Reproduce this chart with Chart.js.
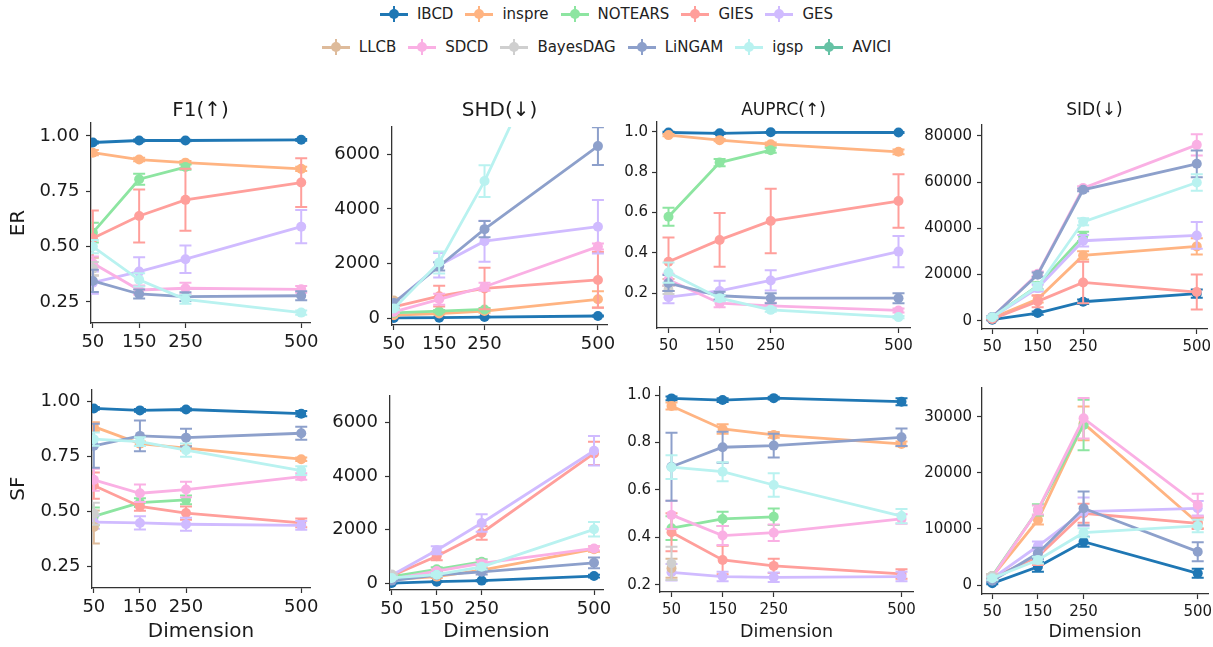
<!DOCTYPE html>
<html>
<head>
<meta charset="utf-8">
<script src="https://cdn.jsdelivr.net/npm/chart.js@4.4.1/dist/chart.umd.min.js"></script>
<style>
  html, body { margin: 0; padding: 0; background: #fff; overflow: hidden; }
  #fig { position: relative; width: 1213px; height: 647px; overflow: hidden; font-family: "DejaVu Sans", sans-serif; }
  canvas.panel { position: absolute; }
  .legend-row { position: absolute; left: 0; width: 1213px; height: 20px; display: flex; justify-content: center; align-items: center; font-size: 15px; color: #222; }
  .item { display: flex; align-items: center; margin: 0 6px; }
  .handle { position: relative; width: 28px; height: 16px; margin-right: 9px; }
  .handle .h { position: absolute; left: 0; right: 0; top: 6.5px; height: 3px; }
  .handle .v { position: absolute; left: 13px; width: 2px; top: 0; bottom: 0; }
  .handle .dot { position: absolute; left: 9px; top: 3px; width: 10px; height: 10px; border-radius: 50%; }
</style>
</head>
<body>
<div id="fig"></div>
<script>
const N = null;
const dims = [50, 150, 250, 500];
const methods = ["IBCD", "inspre", "NOTEARS", "GIES", "GES", "LLCB", "SDCD", "BayesDAG", "LiNGAM", "igsp", "AVICI"];
const colors = ["#1f77b4", "#ffb482", "#8de5a1", "#ff9f9b", "#d0bbff", "#debb9b", "#fab0e4", "#cfcfcf", "#8da0cb", "#b9f2f0", "#66c2a5"];

// tick values per metric
const f1Ticks = [0.25, 0.5, 0.75, 1.0];
const shdTicks = [0, 2000, 4000, 6000];
const auprcTicks = [0.2, 0.4, 0.6, 0.8, 1.0];
const sidTicksER = [0, 20000, 40000, 60000, 80000];
const sidTicksSF = [0, 10000, 20000, 30000];

// ---- ER graphs ----
const erF1 = {
  IBCD: [0.970, 0.979, 0.979, 0.982], inspre: [0.924, 0.893, 0.879, 0.851],
  NOTEARS: [0.563, 0.804, 0.859, N], GIES: [0.538, 0.638, 0.711, 0.789],
  GES: [0.337, 0.387, 0.443, 0.590], LLCB: [0.41, N, N, N],
  SDCD: [0.425, 0.304, 0.312, 0.307], BayesDAG: [0.40, N, N, N],
  LiNGAM: [0.345, 0.286, 0.274, 0.278], igsp: [0.50, 0.35, 0.262, 0.202],
  AVICI: [N, N, N, N]
};
const erF1Err = {
  IBCD: [0.005, 0.004, 0.003, 0.004], inspre: [0.012, 0.008, 0.007, 0.010],
  NOTEARS: [0.045, 0.025, 0.012, N], GIES: [0.125, 0.12, 0.14, 0.11],
  GES: [0.05, 0.065, 0.062, 0.075], LLCB: [0.04, N, N, N],
  SDCD: [0.03, 0.02, 0.025, 0.015], BayesDAG: [0.03, N, N, N],
  LiNGAM: [0.05, 0.02, 0.02, 0.02], igsp: [0.03, 0.03, 0.02, 0.01],
  AVICI: [N, N, N, N]
};
const erShd = {
  IBCD: [10, 20, 40, 80], inspre: [110, 170, 260, 690],
  NOTEARS: [195, 255, 320, N], GIES: [415, 805, 1090, 1400],
  GES: [550, 1940, 2820, 3350], LLCB: [650, N, N, N],
  SDCD: [230, 690, 1150, 2620], BayesDAG: [400, N, N, N],
  LiNGAM: [560, 1900, 3260, 6300], igsp: [355, 2040, 5020, 13900],
  AVICI: [N, N, N, N]
};
const erShdErr = {
  IBCD: [5, 5, 8, 15], inspre: [30, 40, 60, 300],
  NOTEARS: [30, 40, 50, N], GIES: [60, 380, 760, 1020],
  GES: [150, 450, 750, 980], LLCB: [80, N, N, N],
  SDCD: [40, 200, 150, 110], BayesDAG: [60, N, N, N],
  LiNGAM: [100, 150, 300, 690], igsp: [60, 400, 580, 800],
  AVICI: [N, N, N, N]
};
const erAuprc = {
  IBCD: [0.997, 0.993, 0.998, 0.997], inspre: [0.984, 0.959, 0.939, 0.901],
  NOTEARS: [0.579, 0.848, 0.909, N], GIES: [0.356, 0.464, 0.558, 0.657],
  GES: [0.180, 0.211, 0.263, 0.406], LLCB: [0.24, N, N, N],
  SDCD: [0.266, 0.150, 0.137, 0.114], BayesDAG: [0.216, N, N, N],
  LiNGAM: [0.250, 0.187, 0.175, 0.175], igsp: [0.302, 0.175, 0.117, 0.081],
  AVICI: [N, N, N, N]
};
const erAuprcErr = {
  IBCD: [0.004, 0.004, 0.002, 0.002], inspre: [0.006, 0.006, 0.008, 0.012],
  NOTEARS: [0.045, 0.018, 0.012, N], GIES: [0.12, 0.133, 0.16, 0.133],
  GES: [0.03, 0.05, 0.05, 0.077], LLCB: [0.03, N, N, N],
  SDCD: [0.03, 0.02, 0.015, 0.01], BayesDAG: [0.02, N, N, N],
  LiNGAM: [0.04, 0.02, 0.025, 0.025], igsp: [0.05, 0.015, 0.01, 0.006],
  AVICI: [N, N, N, N]
};
const erSid = {
  IBCD: [430, 3300, 8200, 11700], inspre: [1150, 9400, 28250, 32150],
  NOTEARS: [1500, 15100, 36500, N], GIES: [700, 8350, 16550, 12400],
  GES: [1500, 14100, 34600, 36900], LLCB: [1500, N, N, N],
  SDCD: [1600, 20300, 57400, 76100], BayesDAG: [1500, N, N, N],
  LiNGAM: [1600, 19900, 56650, 67900], igsp: [1500, 14800, 42800, 59800],
  AVICI: [N, N, N, N]
};
const erSidErr = {
  IBCD: [200, 700, 1000, 1800], inspre: [300, 1500, 1800, 3500],
  NOTEARS: [300, 1500, 2000, N], GIES: [200, 2500, 9000, 7600],
  GES: [300, 1500, 2500, 5800], LLCB: [200, N, N, N],
  SDCD: [300, 1000, 800, 4600], BayesDAG: [200, N, N, N],
  LiNGAM: [300, 1000, 600, 5800], igsp: [300, 1500, 1500, 3600],
  AVICI: [N, N, N, N]
};

// ---- SF graphs ----
const sfF1 = {
  IBCD: [0.967, 0.958, 0.962, 0.943], inspre: [0.884, 0.807, 0.786, 0.736],
  NOTEARS: [0.476, 0.538, 0.551, N], GIES: [0.616, 0.521, 0.491, 0.446],
  GES: [0.450, 0.446, 0.440, 0.435], LLCB: [0.428, N, N, N],
  SDCD: [0.642, 0.581, 0.598, 0.657], BayesDAG: [0.488, N, N, N],
  LiNGAM: [0.797, 0.842, 0.834, 0.854], igsp: [0.827, 0.816, 0.777, 0.684],
  AVICI: [N, N, N, N]
};
const sfF1Err = {
  IBCD: [0.006, 0.006, 0.005, 0.012], inspre: [0.02, 0.01, 0.01, 0.008],
  NOTEARS: [0.04, 0.02, 0.02, N], GIES: [0.06, 0.02, 0.03, 0.02],
  GES: [0.03, 0.03, 0.03, 0.02], LLCB: [0.075, N, N, N],
  SDCD: [0.05, 0.04, 0.035, 0.015], BayesDAG: [0.05, N, N, N],
  LiNGAM: [0.10, 0.07, 0.04, 0.03], igsp: [0.03, 0.02, 0.03, 0.02],
  AVICI: [N, N, N, N]
};
const sfShd = {
  IBCD: [10, 60, 100, 270], inspre: [140, 250, 490, 1275],
  NOTEARS: [250, 520, 800, N], GIES: [280, 1013, 1880, 4850],
  GES: [300, 1236, 2250, 4950], LLCB: [300, N, N, N],
  SDCD: [160, 456, 740, 1300], BayesDAG: [330, N, N, N],
  LiNGAM: [100, 310, 430, 765], igsp: [200, 320, 615, 2015],
  AVICI: [N, N, N, N]
};
const sfShdErr = {
  IBCD: [5, 10, 20, 50], inspre: [30, 50, 80, 100],
  NOTEARS: [40, 80, 100, N], GIES: [50, 150, 250, 430],
  GES: [50, 150, 330, 550], LLCB: [50, N, N, N],
  SDCD: [30, 60, 100, 80], BayesDAG: [40, N, N, N],
  LiNGAM: [20, 60, 100, 200], igsp: [30, 60, 100, 270],
  AVICI: [N, N, N, N]
};
const sfAuprc = {
  IBCD: [0.986, 0.979, 0.987, 0.972], inspre: [0.954, 0.857, 0.832, 0.794],
  NOTEARS: [0.439, 0.478, 0.487, N], GIES: [0.422, 0.305, 0.280, 0.246],
  GES: [0.253, 0.235, 0.232, 0.235], LLCB: [0.27, N, N, N],
  SDCD: [0.495, 0.408, 0.420, 0.478], BayesDAG: [0.291, N, N, N],
  LiNGAM: [0.698, 0.780, 0.787, 0.822], igsp: [0.696, 0.677, 0.621, 0.490],
  AVICI: [N, N, N, N]
};
const sfAuprcErr = {
  IBCD: [0.008, 0.008, 0.006, 0.015], inspre: [0.015, 0.02, 0.012, 0.01],
  NOTEARS: [0.05, 0.03, 0.035, N], GIES: [0.08, 0.06, 0.03, 0.02],
  GES: [0.035, 0.02, 0.02, 0.02], LLCB: [0.04, N, N, N],
  SDCD: [0.06, 0.04, 0.035, 0.02], BayesDAG: [0.07, N, N, N],
  LiNGAM: [0.143, 0.065, 0.05, 0.037], igsp: [0.05, 0.04, 0.05, 0.03],
  AVICI: [N, N, N, N]
};
const sfSid = {
  IBCD: [300, 3260, 7720, 2080], inspre: [1480, 11590, 28800, 11100],
  NOTEARS: [1600, 13370, 28520, N], GIES: [1300, 5050, 12780, 11000],
  GES: [1200, 6950, 13070, 13670], LLCB: [1600, N, N, N],
  SDCD: [1400, 13370, 29700, 14260], BayesDAG: [1600, N, N, N],
  LiNGAM: [770, 5650, 13670, 5940], igsp: [1200, 4450, 9320, 10520],
  AVICI: [N, N, N, N]
};
const sfSidErr = {
  IBCD: [150, 900, 900, 800], inspre: [300, 800, 3000, 1000],
  NOTEARS: [300, 1000, 4500, N], GIES: [300, 1500, 1700, 1000],
  GES: [300, 800, 2500, 1300], LLCB: [300, N, N, N],
  SDCD: [300, 800, 3600, 2000], BayesDAG: [300, N, N, N],
  LiNGAM: [200, 1000, 3000, 1700], igsp: [300, 600, 800, 1100],
  AVICI: [N, N, N, N]
};

// panel layout: plot box [left, top, right, bottom] in page pixels
const panels = [
  { vals: erF1, errs: erF1Err, ticks: f1Ticks, dec: 2, y: [0.155, 1.058], x: [46, 519], box: [91, 123, 310, 323], col: 0, row: 0, title: "F1(\u2191)", side: "ER" },
  { vals: erShd, errs: erShdErr, ticks: shdTicks, dec: null, y: [-250, 7000], x: [46, 520], box: [392, 127, 607, 325], col: 1, row: 0, title: "SHD(\u2193)" },
  { vals: erAuprc, errs: erAuprcErr, ticks: auprcTicks, dec: 1, y: [0.027, 1.049], x: [27.5, 522.5], box: [657, 122, 910, 328], col: 2, row: 0, title: "AUPRC(\u2191)" },
  { vals: erSid, errs: erSidErr, ticks: sidTicksER, dec: null, y: [-3600, 84700], x: [27.5, 522.5], box: [982, 125, 1207, 329], col: 3, row: 0, title: "SID(\u2193)" },
  { vals: sfF1, errs: sfF1Err, ticks: f1Ticks, dec: 2, y: [0.15, 1.054], x: [46, 519], box: [92, 388, 310, 588], col: 0, row: 1, side: "SF" },
  { vals: sfShd, errs: sfShdErr, ticks: shdTicks, dec: null, y: [-250, 7000], x: [46, 520], box: [390, 394, 603, 590], col: 1, row: 1 },
  { vals: sfAuprc, errs: sfAuprcErr, ticks: auprcTicks, dec: 1, y: [0.17, 1.034], x: [27.5, 522.5], box: [660, 387, 913, 592], col: 2, row: 1 },
  { vals: sfSid, errs: sfSidErr, ticks: sidTicksSF, dec: null, y: [-1600, 35100], x: [27.5, 522.5], box: [982, 388, 1208, 594], col: 3, row: 1 }
];

Chart.defaults.font.family = "'DejaVu Sans', sans-serif";
Chart.defaults.color = "#1a1a1a";

// vertical error bars with caps, drawn right before each dataset's line
const errorBars = {
  id: "errorBars",
  beforeDatasetDraw(chart, args) {
    const ds = chart.data.datasets[args.index];
    if (!ds.errors) return;
    const { ctx, chartArea } = chart;
    const xs = chart.scales.x;
    const ys = chart.scales.y;
    ctx.save();
    ctx.beginPath();
    ctx.rect(chartArea.left, chartArea.top, chartArea.width, chartArea.height);
    ctx.clip();
    ctx.strokeStyle = ds.borderColor;
    ctx.lineWidth = 2;
    ds.data.forEach((pt, i) => {
      const e = ds.errors[i];
      if (pt.y == null || e == null) return;
      const px = xs.getPixelForValue(pt.x);
      const top = ys.getPixelForValue(pt.y + e);
      const bot = ys.getPixelForValue(pt.y - e);
      ctx.beginPath();
      ctx.moveTo(px, top); ctx.lineTo(px, bot);
      ctx.moveTo(px - 6, top); ctx.lineTo(px + 6, top);
      ctx.moveTo(px - 6, bot); ctx.lineTo(px + 6, bot);
      ctx.stroke();
    });
    ctx.restore();
  }
};

const fig = document.getElementById("fig");
const spine = "#333333";

function makePanel(p) {
  const [L, T, R, B] = p.box;
  const big = p.col < 2;
  const tickSize = big ? 18 : 15;
  const titleSize = big ? 20 : 17;
  const dimSize = big ? 20 : 17.5;
  const yW = p.col === 0 ? L : 70;
  const padR = 24;

  // top strip: title box for the first row, plain padding for the second
  const titleLh = titleSize * 1.2;
  let titleH = 16, titlePadTop = 0, titlePadBot = 0, padTop = 16;
  if (p.title) {
    titlePadBot = T - 111 - titleLh / 2;
    titleH = Math.ceil(titleLh + titlePadBot + 2);
    titlePadTop = titleH - titleLh - titlePadBot;
    padTop = 0;
  }

  const xH = p.row === 1 ? 64 : 40;
  const dimLh = dimSize * 1.2;
  const dimPadBot = B + xH - 632 - dimLh / 2;

  const cv = document.createElement("canvas");
  cv.className = "panel";
  cv.width = yW + (R - L) + padR;
  cv.height = titleH + (B - T) + xH;
  cv.style.left = (L - yW) + "px";
  cv.style.top = (T - titleH) + "px";
  fig.appendChild(cv);

  const datasets = methods.map((m, i) => ({
    label: m,
    data: dims.map((d, k) => ({ x: d, y: p.vals[m][k] })),
    errors: p.errs[m],
    borderColor: colors[i],
    backgroundColor: colors[i],
    pointBackgroundColor: colors[i],
    pointBorderWidth: 0,
    pointRadius: 5,
    borderWidth: 2.8,
    tension: 0,
    clip: 0,
    order: methods.length - i
  }));

  const ypad = [6.5, 7, 4, 5][p.col];

  new Chart(cv, {
    type: "line",
    data: { datasets },
    plugins: [errorBars],
    options: {
      responsive: false,
      animation: false,
      events: [],
      layout: { padding: { left: 0, right: padR, top: padTop, bottom: 0 } },
      plugins: {
        legend: { display: false },
        tooltip: { enabled: false },
        title: {
          display: !!p.title,
          text: p.title || "",
          fullSize: false,
          color: "#1a1a1a",
          font: { size: titleSize, weight: "normal", lineHeight: 1.2 },
          padding: { top: titlePadTop, bottom: titlePadBot }
        }
      },
      scales: {
        x: {
          type: "linear",
          min: p.x[0],
          max: p.x[1],
          afterBuildTicks: (axis) => { axis.ticks = dims.map(v => ({ value: v })); },
          afterFit: (axis) => { axis.height = xH; },
          ticks: { autoSkip: false, maxRotation: 0, padding: 4, color: "#1a1a1a",
            font: { size: tickSize }, callback: v => String(v) },
          grid: { drawOnChartArea: false, drawTicks: true, tickLength: 5, tickWidth: 1.2, tickColor: spine },
          border: { display: true, color: spine, width: 1.3 },
          title: {
            display: p.row === 1,
            text: "Dimension",
            color: "#1a1a1a",
            font: { size: dimSize, lineHeight: 1.2 },
            padding: { top: 0, bottom: dimPadBot }
          }
        },
        y: {
          type: "linear",
          min: p.y[0],
          max: p.y[1],
          afterBuildTicks: (axis) => { axis.ticks = p.ticks.map(v => ({ value: v })); },
          afterFit: (axis) => { axis.width = yW; },
          ticks: { padding: ypad, color: "#1a1a1a", font: { size: tickSize },
            callback: v => p.dec == null ? String(v) : Number(v).toFixed(p.dec) },
          grid: { drawOnChartArea: false, drawTicks: true, tickLength: 5, tickWidth: 1.2, tickColor: spine },
          border: { display: true, color: spine, width: 1.3 },
          title: {
            display: !!p.side,
            text: p.side || "",
            color: "#1a1a1a",
            font: { size: 20, lineHeight: 1.2 },
            padding: { top: 7, bottom: 0 }
          }
        }
      }
    }
  });
}

panels.forEach(makePanel);

// legend, two centred rows
const legendRows = [methods.slice(0, 5), methods.slice(5)];
legendRows.forEach((names, r) => {
  const row = document.createElement("div");
  row.className = "legend-row";
  row.style.top = (r === 0 ? 4 : 37) + "px";
  names.forEach(name => {
    const c = colors[methods.indexOf(name)];
    const item = document.createElement("div");
    item.className = "item";
    item.innerHTML =
      '<span class="handle"><span class="h" style="background:' + c + '"></span>' +
      '<span class="v" style="background:' + c + '"></span>' +
      '<span class="dot" style="background:' + c + '"></span></span>' +
      "<span>" + name + "</span>";
    row.appendChild(item);
  });
  fig.appendChild(row);
});
</script>
</body>
</html>
